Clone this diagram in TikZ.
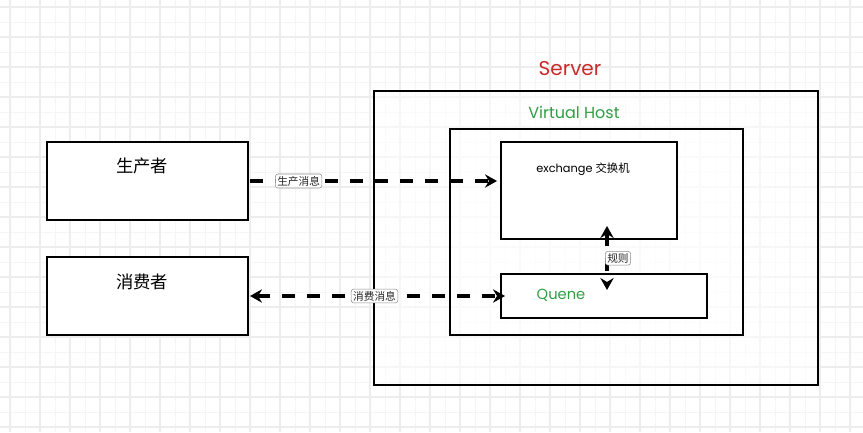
\documentclass[tikz,border=0pt]{standalone}
\usepackage{fontspec}
\setmainfont{Poppins}
\newfontfamily\cjk{Noto Sans CJK SC}
\usetikzlibrary{arrows.meta,calc,positioning}
\definecolor{srvred}{HTML}{C92A2A}
\definecolor{vhgreen}{HTML}{2F9E44}

\begin{document}
\begin{tikzpicture}[x=0.75pt,y=-0.75pt]
    \tikzset{Box/.style 2 args={draw, line width=1.5pt, fill=white,
        inner sep=0pt, outer sep=0pt, minimum width=#1, minimum height=#2},
      GridMinor/.style={draw=black!4, line width=0.6pt},
      GridMajor/.style={draw=black!7, line width=0.8pt},
      Flow/.style={line width=2.5pt, dash pattern=on 9.75pt off 9pt,
        -{Stealth[length=9pt,width=10pt,inset=3pt]}},
      Both/.style={{Stealth[length=9pt,width=10pt,inset=3pt]}-{Stealth[length=9pt,width=10pt,inset=3pt]}},
      Tag/.style={draw=black!45, line width=0.4pt, rounded corners=2pt,
        fill=white, inner sep=1.5pt, text=black!85,
        font=\cjk\fontsize{8}{9}\selectfont, solid}}
    \useasboundingbox (0,0) rectangle (863,432);
    \fill[white] (0,0) rectangle (863,432);

    % background grid
    \foreach \gx in {25,55,...,865} \draw[GridMinor] (\gx,0) -- (\gx,432);
    \foreach \gy in {22,52,...,432} \draw[GridMinor] (0,\gy) -- (863,\gy);
    \foreach \gx in {10,40,...,850} \draw[GridMajor] (\gx,0) -- (\gx,432);
    \foreach \gy in {7,37,...,427} \draw[GridMajor] (0,\gy) -- (863,\gy);

    \node[Box={150.75pt}{58.5pt}] (Prod) at (147.5,181) {};
    \node[Box={150.75pt}{58.5pt}] (Cons) at (147.5,296) {};
    \node[Box={333pt}{220.5pt}, fill opacity=0.5, text opacity=1] (Serv) at (596,238) {};
    \node[Box={219.75pt}{154.5pt}, fill opacity=0.5, text opacity=1] (VHost) at (596.5,232) {};
    \node[Box={132pt}{72.75pt}] (Exch) at (589,190.5) {};
    \node[Box={154.5pt}{33pt}] (Queue) at (604,296) {};

    \node[font=\cjk\fontsize{13}{15}\selectfont] (ProdLbl) at ($(Prod.north)+(-5.5,24)$) {生产者};
    \node[font=\cjk\fontsize{13}{15}\selectfont] (ConsLbl) at ($(Cons.north)+(-5.5,25)$) {消费者};
    \node[font=\fontsize{15}{17}\selectfont, text=srvred] (ServLbl) at ($(Serv.north)+(-26,-22)$) {Server};
    \node[font=\fontsize{12}{14}\selectfont, text=vhgreen] (VHostLbl) at ($(VHost.north)+(-22.5,-17)$) {Virtual Host};
    \node[font=\fontsize{8.5}{10}\selectfont] (ExchLbl) at ($(Exch.north)+(-6,27)$) {exchange {\cjk 交换机}};
    \node[font=\fontsize{11}{13}\selectfont, text=vhgreen] (QueueLbl) at ($(Queue.center)+(-43,-1)$) {Quene};

    \draw[Flow, shorten <=1.5pt, shorten >=3pt] (Prod.east) -- (Prod.east -| Exch.west)
      node[Tag, pos=0.2] {生产消息};
    \draw[Flow, Both, shorten <=1.5pt, shorten >=-3pt] (Cons.east) -- (Queue.west)
      node[Tag, pos=0.5] {消费消息};
    \draw[Flow, Both, shorten <=-9.75pt, shorten >=-12pt] ($(Exch.south)+(18,0)$) -- ($(Queue.north)+(3,0)$)
      node[Tag, pos=0.55, anchor=west, xshift=-1.5pt] {规则};
\end{tikzpicture}
\end{document}
